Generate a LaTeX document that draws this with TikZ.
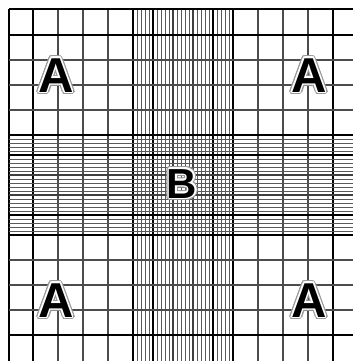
\documentclass[tikz,border=0pt]{standalone}
\usepackage{fontspec}
\setmainfont{Liberation Sans}
\begin{document}
\begin{tikzpicture}[x=1pt,y=-1pt,
  thickline/.style={line width=1.9pt,black},
  minorline/.style={line width=1.1pt,black!70},
  denseline/.style={line width=0.75pt,black!65},
  midline/.style={line width=1.2pt,black!75},
  halogray/.style={inner sep=0pt,anchor=base,text=black!40},
  halowhite/.style={inner sep=0pt,anchor=base,text=white},
  letterbox/.style={inner sep=0pt,anchor=base,text=black}]
\useasboundingbox (0,0) rectangle (353,361);
\fill[white] (0,0) rectangle (353,361);
% vertical lines
\foreach \x in {58,83,108,258,283,308}{\draw[minorline] (\x,9) -- (\x,361);}
\foreach \x in {137,141,...,231}{\draw[denseline] (\x,9) -- (\x,361);}
\foreach \x in {173,193}{\draw[midline] (\x,9) -- (\x,361);}
\foreach \x in {9,33,133,153,213,233,333}{\draw[thickline] (\x,9) -- (\x,361);}
% horizontal lines
\foreach \y in {60,85,110,260,285,310}{\draw[minorline] (9,\y) -- (353,\y);}
\foreach \y in {139,143,...,233}{\draw[denseline] (9,\y) -- (353,\y);}
\foreach \y in {175,195}{\draw[midline] (9,\y) -- (353,\y);}
\foreach \y in {9,35,135,155,215,235,335}{\draw[thickline] (9,\y) -- (353,\y);}
% letters with halo
\newcommand\halotext[4]{%
  \foreach \ang in {0,20,...,340}{
    \path (#2) ++(\ang:2.8) node[halogray,font=\bfseries\fontsize{#3}{#3}\selectfont] (#1g\ang) {#4};
  }
  \foreach \ang in {0,30,...,330}{
    \path (#2) ++(\ang:1.4) node[halowhite,font=\bfseries\fontsize{#3}{#3}\selectfont] (#1w\ang) {#4};
  }
  \node[letterbox,font=\bfseries\fontsize{#3}{#3}\selectfont] (#1) at (#2) {#4};
}
\coordinate (pa1) at (56,92);
\coordinate (pa2) at (309,92);
\coordinate (pa3) at (56,317);
\coordinate (pa4) at (309,317);
\coordinate (pb) at (182,198);
\halotext{a1}{pa1}{49}{A}
\halotext{a2}{pa2}{49}{A}
\halotext{a3}{pa3}{49}{A}
\halotext{a4}{pa4}{49}{A}
\halotext{b}{pb}{42}{B}
\end{tikzpicture}
\end{document}
